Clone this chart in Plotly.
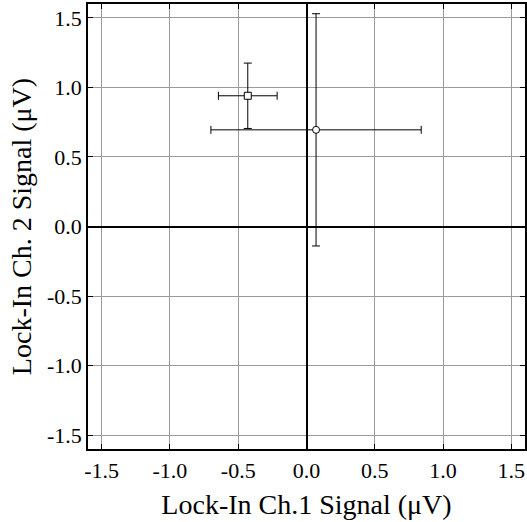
import plotly.graph_objects as go

# Data
x_vals = [-0.43, 0.07]
y_vals = [0.94, 0.695]
x_err = [0.215, 0.77]
y_err = [0.235, 0.835]
symbols = ["square", "circle"]
tick_vals = [-1.5, -1.0, -0.5, 0.0, 0.5, 1.0, 1.5]
tick_text = ["-1.5", "-1.0", "-0.5", "0.0", "0.5", "1.0", "1.5"]

SERIF = "Liberation Serif"

fig = go.Figure()
for i in range(len(x_vals)):
    fig.add_trace(go.Scatter(
        x=[x_vals[i]], y=[y_vals[i]], mode="markers",
        marker=dict(symbol=symbols[i], size=7, color="white",
                    line=dict(color="black", width=1)),
        error_x=dict(type="data", array=[x_err[i]], color="black", thickness=1, width=4),
        error_y=dict(type="data", array=[y_err[i]], color="black", thickness=1, width=4),
        showlegend=False,
    ))

axis_common = dict(
    range=[-1.6, 1.6], tickvals=tick_vals, ticktext=tick_text,
    showgrid=True, gridcolor="#9a9a9a", gridwidth=1,
    zeroline=True, zerolinecolor="black", zerolinewidth=2,
    showline=True, linecolor="black", linewidth=1.5, mirror="ticks",
    ticks="inside", ticklen=5, tickcolor="black", automargin=False,
)

fig.update_layout(
    width=527, height=522,
    margin=dict(l=88, r=2, t=4, b=73),
    paper_bgcolor="white", plot_bgcolor="white",
    font=dict(family=SERIF, size=22, color="black"),
    xaxis=dict(**axis_common, ticklabelstandoff=1,
               tickfont=dict(family=SERIF, size=22, color="black"),
               title=dict(text="Lock-In Ch.1 Signal (μV)", standoff=12,
                          font=dict(family=SERIF, size=28, color="black"))),
    yaxis=dict(**axis_common, ticklabelstandoff=0,
               tickfont=dict(family=SERIF, size=22, color="black"),
               title=dict(text="Lock-In Ch. 2 Signal (μV)", standoff=7,
                          font=dict(family=SERIF, size=28, color="black"))),
)

fig.write_html("out.html", config={"displayModeBar": False},
               post_script="document.body.style.margin='0';")
